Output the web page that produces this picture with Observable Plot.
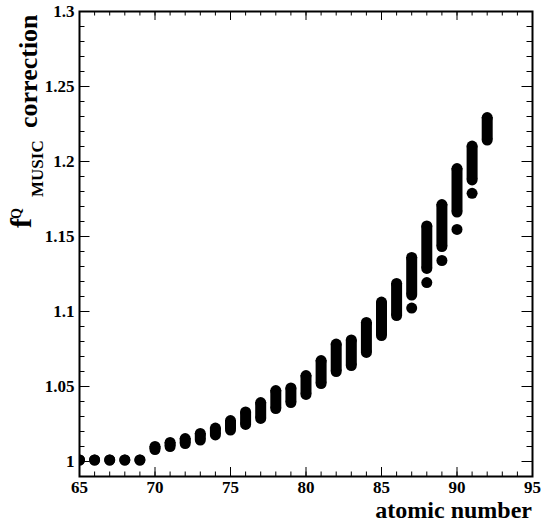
<!DOCTYPE html>
<html>
<head>
<meta charset="utf-8">
<script src="https://cdn.jsdelivr.net/npm/d3@7"></script>
<script src="https://cdn.jsdelivr.net/npm/@observablehq/plot@0.6"></script>
<style>
  html, body { margin: 0; padding: 0; background: #fff; }
  #chart svg { display: block; }
  #chart svg text { font-weight: bold; font-family: 'Liberation Serif', 'Times New Roman', serif; }
</style>
</head>
<body>
<div id="chart"></div>
<script>
// ---- data ----
const atomicNumber = [65,66,67,68,69,70,71,72,73,74,75,76,77,78,79,80,81,82,83,84,85,86,87,88,89,90,91,92];
const lowValues  = [1.001,1.001,1.001,1.001,1.001,1.008,1.010,1.012,1.0143,1.0177,1.021,1.0247,1.0287,1.0353,1.0393,1.0447,1.052,1.060,1.064,1.0727,1.084,1.0973,1.111,1.1287,1.1433,1.1663,1.1877,1.2143];
const highValues = [1.001,1.001,1.001,1.001,1.001,1.010,1.0127,1.0153,1.0187,1.0223,1.0273,1.033,1.0393,1.0473,1.049,1.0573,1.0673,1.0783,1.081,1.0927,1.1063,1.1187,1.136,1.157,1.1713,1.1953,1.2103,1.2293];
const outlierZ = [87, 88, 89, 90, 91];
const outlierValues = [1.1023, 1.1193, 1.134, 1.1547, 1.1788];

const xMajorTicks = [65, 70, 75, 80, 85, 90, 95];
const xTickLabels = ["65", "70", "75", "80", "85", "90", "95"];
const xMinorTicks = d3.range(65, 96, 1);
const yMajorTicks = [1, 1.05, 1.1, 1.15, 1.2, 1.25, 1.3];
const yTickLabels = ["1", "1.05", "1.1", "1.15", "1.2", "1.25", "1.3"];
const yMinorTicks = d3.range(99, 131, 1).map(d => d / 100);

// ---- tables ----
const columns = atomicNumber.map((z, i) => ({z, lo: lowValues[i], hi: highValues[i]}));
const ends = columns.flatMap(d => [{z: d.z, v: d.lo}, {z: d.z, v: d.hi}]);
const outliers = outlierZ.map((z, i) => ({z, v: outlierValues[i]}));
const xMajor = xMajorTicks.map((t, i) => ({t, label: xTickLabels[i]}));
const yMajor = yMajorTicks.map((t, i) => ({t, label: yTickLabels[i]}));

const W = 545, H = 529;
const mL = 79, mR = 13, mT = 11, mB = 53;
const fw = W - mL - mR, fh = H - mT - mB;
const font = "'Liberation Serif', 'Times New Roman', serif";

const plot = Plot.plot({
  width: W,
  height: H,
  marginLeft: mL,
  marginRight: mR,
  marginTop: mT,
  marginBottom: mB,
  style: {background: "#fff", fontFamily: font},
  x: {domain: [65, 95], label: null, axis: null},
  y: {domain: [0.99, 1.3], label: null, axis: null},
  marks: [
    // data
    Plot.ruleX(columns, {x: "z", y1: "lo", y2: "hi", stroke: "black", strokeWidth: 11, clip: true}),
    Plot.dot(ends, {x: "z", y: "v", r: 5.5, fill: "black", stroke: "none", clip: true}),
    Plot.dot(outliers, {x: "z", y: "v", r: 5.5, fill: "black", stroke: "none", clip: true}),
    // inward ticks: bottom & top
    Plot.ruleX(xMinorTicks, {x: d => d, insetTop: fh - 4.5, stroke: "black", strokeWidth: 1}),
    Plot.ruleX(xMinorTicks, {x: d => d, insetBottom: fh - 4.5, stroke: "black", strokeWidth: 1}),
    Plot.ruleX(xMajorTicks, {x: d => d, insetTop: fh - 9, stroke: "black", strokeWidth: 1}),
    Plot.ruleX(xMajorTicks, {x: d => d, insetBottom: fh - 9, stroke: "black", strokeWidth: 1}),
    // inward ticks: left & right
    Plot.ruleY(yMinorTicks, {y: d => d, insetRight: fw - 5.5, stroke: "black", strokeWidth: 1}),
    Plot.ruleY(yMinorTicks, {y: d => d, insetLeft: fw - 5.5, stroke: "black", strokeWidth: 1}),
    Plot.ruleY(yMajorTicks, {y: d => d, insetRight: fw - 10.5, stroke: "black", strokeWidth: 1}),
    Plot.ruleY(yMajorTicks, {y: d => d, insetLeft: fw - 10.5, stroke: "black", strokeWidth: 1}),
    Plot.frame({stroke: "black", strokeWidth: 2}),
    // tick labels
    Plot.text(xMajor, {x: "t", text: "label", frameAnchor: "bottom", lineAnchor: "top", dy: 4,
      fontFamily: font, fontWeight: "bold", fontSize: 17, fill: "black"}),
    Plot.text(yMajor, {y: "t", text: "label", frameAnchor: "left", textAnchor: "end", dx: -5,
      fontFamily: font, fontWeight: "bold", fontSize: 17, fill: "black"})
  ]
});

document.getElementById("chart").appendChild(plot);

// ---- axis titles (real text) ----
const svg = d3.select(plot);
svg.append("text")
  .attr("x", 532).attr("y", 518)
  .attr("text-anchor", "end")
  .attr("font-family", font).attr("font-weight", "bold").attr("font-size", 24)
  .attr("fill", "black")
  .text("atomic number");

function rotText(x, y, size, str) {
  svg.append("text")
    .attr("transform", `translate(${x},${y}) rotate(-90)`)
    .attr("text-anchor", "start")
    .attr("font-family", font).attr("font-weight", "bold").attr("font-size", size)
    .attr("fill", "black")
    .text(str);
}
rotText(31, 228, 30, "f");
rotText(21, 219, 14, "Q");
rotText(43, 197, 17, "MUSIC");
rotText(37, 128, 26, "correction");
</script>
</body>
</html>
